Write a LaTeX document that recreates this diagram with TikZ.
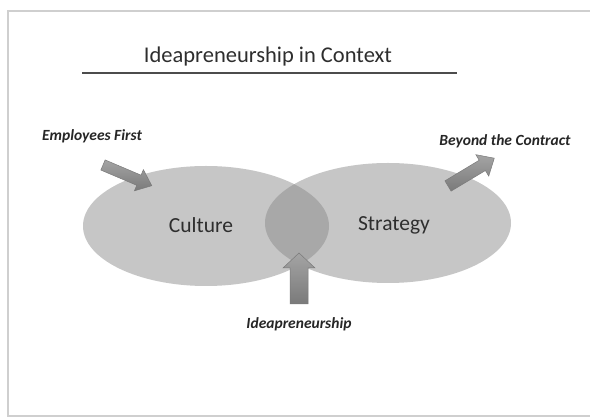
\documentclass[tikz,border=0pt]{standalone}
\usepackage{fontspec}
\setmainfont{Carlito}
\usetikzlibrary{shapes.geometric}
\definecolor{ellfill}{HTML}{C6C6C6}
\definecolor{lensfill}{HTML}{A8A8A8}
\definecolor{arrdark}{HTML}{7A7A7A}
\definecolor{arrlight}{HTML}{A4A4A4}
\definecolor{framecol}{HTML}{CFCFCF}
\definecolor{txt}{HTML}{2E2E2E}
\newcommand\blockarr[7]{%
  \shadedraw[arrowbody, shift={(#1,#2)}, rotate=#3]
    (0,-#5) -- (#4-#7,-#5) -- (#4-#7,-#6) -- (#4,0) -- (#4-#7,#6) -- (#4-#7,#5) -- (0,#5) -- cycle;}
\begin{document}
\begin{tikzpicture}[x=1pt,y=-1pt,
  blob/.style={ellipse, fill=ellfill, minimum width=246pt, minimum height=120pt, inner sep=0pt},
  arrowbody/.style={draw=arrdark, line width=0.5pt, top color=arrlight, bottom color=arrdark},
  bigtext/.style={text=txt, font=\fontsize{21.5}{24}\selectfont},
  label/.style={text=black!85, font=\fontsize{15.5}{18}\selectfont\bfseries\itshape}]
\useasboundingbox (0,0) rectangle (590,419);
\fill[white] (0,0) rectangle (590,419);
% frame
\draw[framecol, line width=2.5pt] (592,11) -- (8,11) -- (8,416) -- (592,416);
% title
\node[text=txt, font=\fontsize{22.5}{26}\selectfont] (title) at (268,57) {Ideapreneurship in Context};
\coordinate (ulL) at (82,73);
\coordinate (ulR) at (457,73);
\draw[gray!60!black, line width=1.2pt] (ulL) -- (ulR);
% ellipses
\node[blob] (culture) at (206,226) {};
\node[blob] (strategy) at (388,223) {};
\begin{scope}
  \clip (206,226) ellipse [x radius=123pt, y radius=60pt];
  \fill[lensfill] (388,223) ellipse [x radius=123pt, y radius=60pt];
\end{scope}
\node[bigtext] (cultxt) at (201,225) {Culture};
\node[bigtext] (strtxt) at (394,225) {Strategy};
% arrows
\blockarr{103}{165}{-23}{53}{5.5}{11.5}{14}
\blockarr{448}{186}{31}{54}{6}{12.5}{14}
\blockarr{299}{304}{90}{51}{9}{16}{15}
% labels
\node[label] (emp) at (92,136) {Employees First};
\node[label] (bey) at (505,141) {Beyond the Contract};
\node[label] (idea) at (299,324) {Ideapreneurship};
\end{tikzpicture}
\end{document}
